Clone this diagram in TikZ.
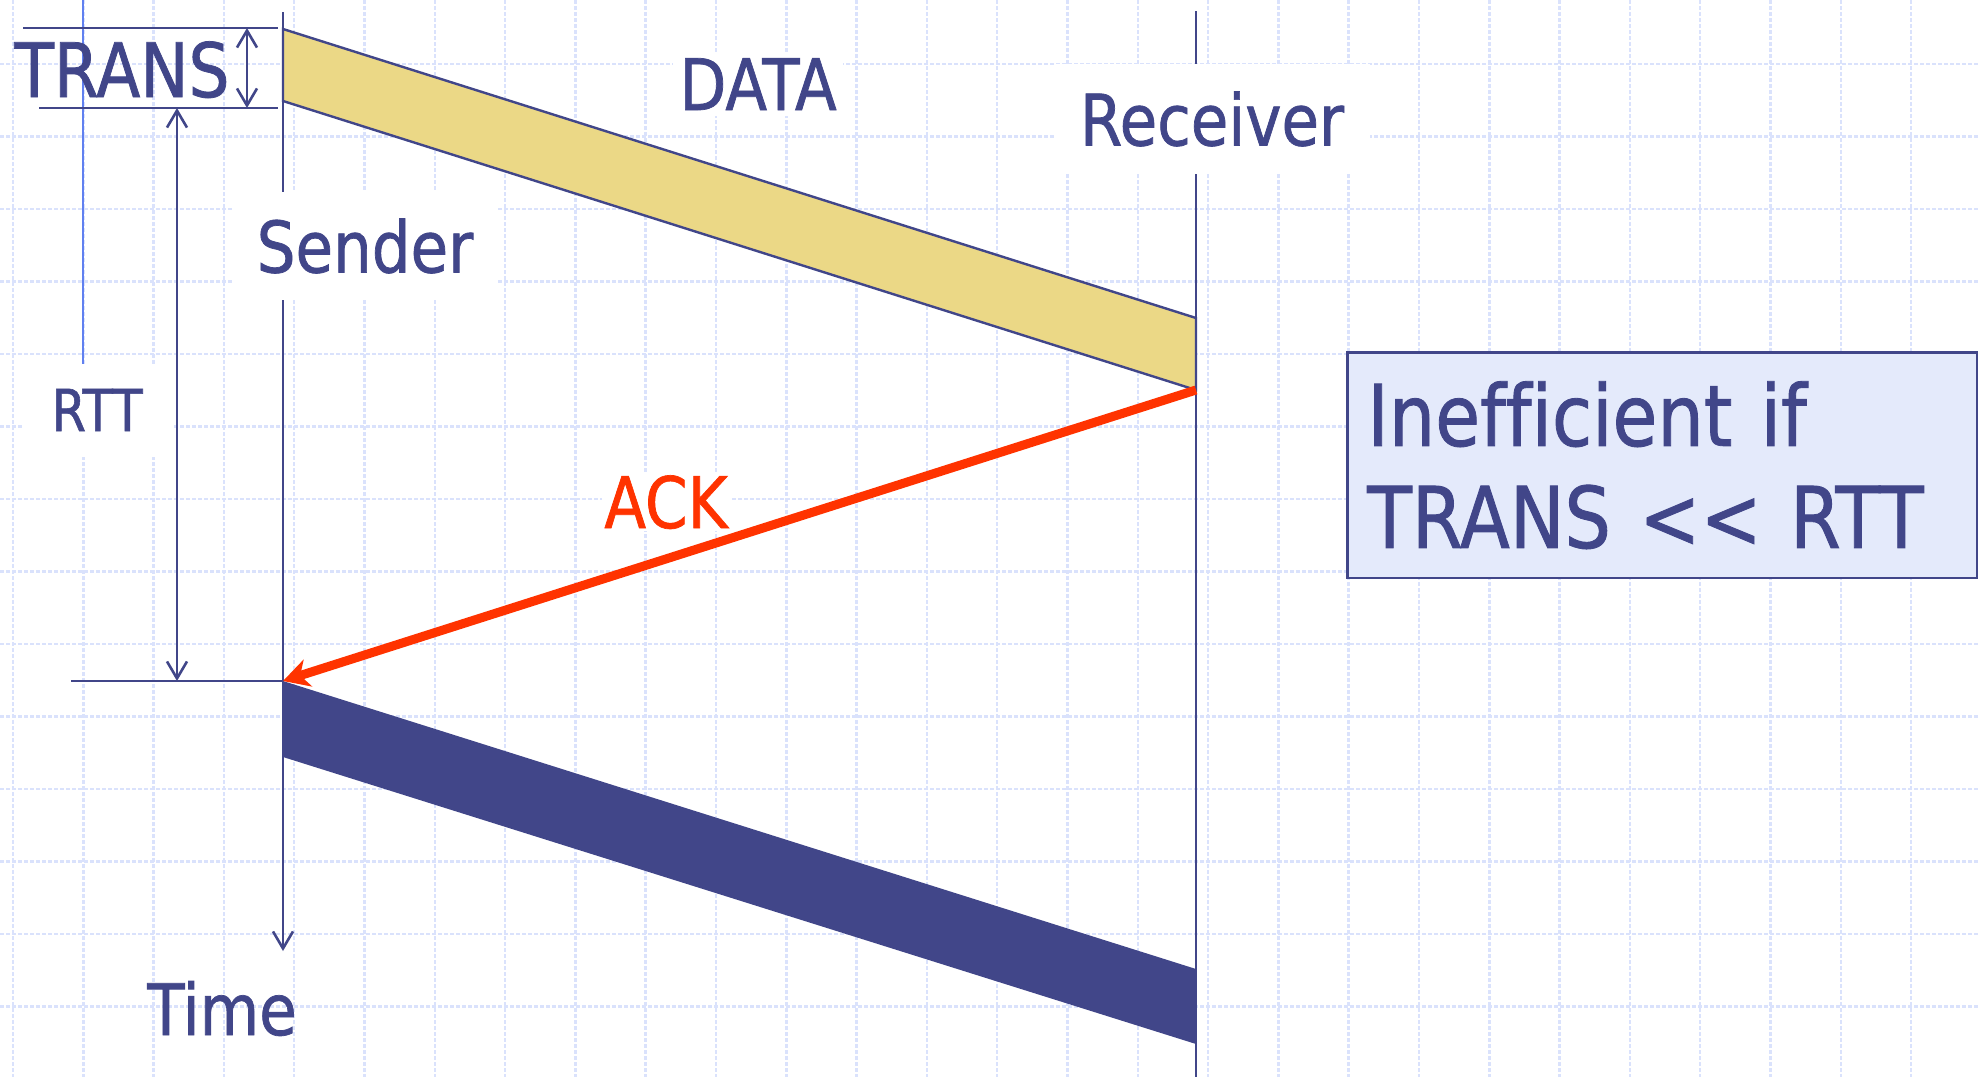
\documentclass[tikz,border=0pt]{standalone}
\usepackage{fontspec}
\setmainfont[FakeStretch=0.86,FakeBold=1,Ligatures=NoCommon]{DejaVu Sans}
\usetikzlibrary{arrows.meta}

\definecolor{navy}{RGB}{65,70,137}
\definecolor{sand}{RGB}{235,216,134}
\definecolor{ackred}{RGB}{255,51,0}
\definecolor{gridblue}{RGB}{218,226,252}
\definecolor{paleblue}{RGB}{228,234,251}
\definecolor{brightblue}{RGB}{96,128,240}

\begin{document}
\begin{tikzpicture}[x=1pt, y=-1pt,
					line width=2.6pt,
					grid line/.style={gridblue, line width=2.5pt, dash pattern=on 4pt off 2pt},
					time line/.style={navy, line width=2.6pt},
					measure/.style={navy, line width=2.6pt, {Straight Barb[length=17pt,width=20pt]}-{Straight Barb[length=17pt,width=20pt]}},
					label node/.style={text=navy, inner sep=0pt, font=\fontsize{71}{85}\selectfont},
					white box/.style={label node, fill=white},
					info box/.style={draw=navy, fill=paleblue, line width=2.6pt, text=navy,
					                 font=\fontsize{85}{102}\selectfont, align=left,
					                 text width=590pt, inner xsep=20pt, inner ysep=29pt}]

  \useasboundingbox (0,0) rectangle (1978,1077);
  \fill[white] (0,0) rectangle (1978,1077);

  % background grid
  \foreach \i in {0,...,27}
    \draw[grid line] ({13+70.3*\i},0) -- ({13+70.3*\i},1077);
  \foreach \j in {0,...,13}
    \draw[grid line] (0,{64+72.5*\j}) -- (1978,{64+72.5*\j});

  \coordinate (sTop) at (283,12);
  \coordinate (sEnd) at (283,951);
  \coordinate (rTop) at (1196,11);
  \coordinate (rEnd) at (1196,1077);
  \coordinate (data1) at (283,29);
  \coordinate (data2) at (283,101);
  \coordinate (data3) at (1196,318);
  \coordinate (data4) at (1196,390);
  \coordinate (next1) at (283,681);
  \coordinate (next2) at (283,757);
  \coordinate (next3) at (1196,969);
  \coordinate (next4) at (1196,1044);
  \coordinate (transA) at (23,28);
  \coordinate (transB) at (278,28);
  \coordinate (transC) at (39,108);
  \coordinate (transD) at (278,108);
  \coordinate (rttFoot) at (71,681);

  \draw[brightblue, line width=2.8pt] (83,0) -- (83,400);

  % packets
  \filldraw[fill=sand, draw=navy, line width=2.4pt] (data1) -- (data3) -- (data4) -- (data2) -- cycle;
  \fill[navy] (next1) -- (next3) -- (next4) -- (next2) -- cycle;

  % time lines
  \draw[time line, -{Straight Barb[length=17pt,width=20pt]}] (sTop) -- (sEnd);
  \draw[time line] (rTop) -- (rEnd);

  % measures
  \draw[time line] (transA) -- (transB);
  \draw[time line] (transC) -- (transD);
  \draw[time line] (rttFoot) -- (next1);
  \draw[measure] (247,28) -- (247,108);
  \draw[measure] (177,108) -- (177,681);

  \draw[ackred, line width=9pt, -{Stealth[length=26pt,width=28pt,inset=8pt]}] (data4) -- (next1);

  % labels
  \node[white box, minimum width=315pt, minimum height=110pt] (recv) at (1212,119) {Receiver};
  \node[white box, minimum width=264pt, minimum height=108pt] (send) at (365,246) {Sender};
  \node[white box, minimum width=149pt, minimum height=93pt, font=\fontsize{58}{70}\selectfont] (rtt) at (97,410) {RTT};
  \node[white box, inner sep=6pt, anchor=base] (data) at (758,110) {DATA};
  \node[white box, inner sep=2pt, anchor=base, text=ackred] (ack) at (666,528) {ACK};
  \node[label node, anchor=base] (time) at (222,1035) {Time};
  \node[label node, anchor=base, font=\fontsize{75}{90}\selectfont] (trans) at (122,97) {TRANS};

  \node[info box, anchor=north west] (note) at (1346,351) {Inefficient if\\TRANS <{}< RTT};
\end{tikzpicture}
\end{document}
